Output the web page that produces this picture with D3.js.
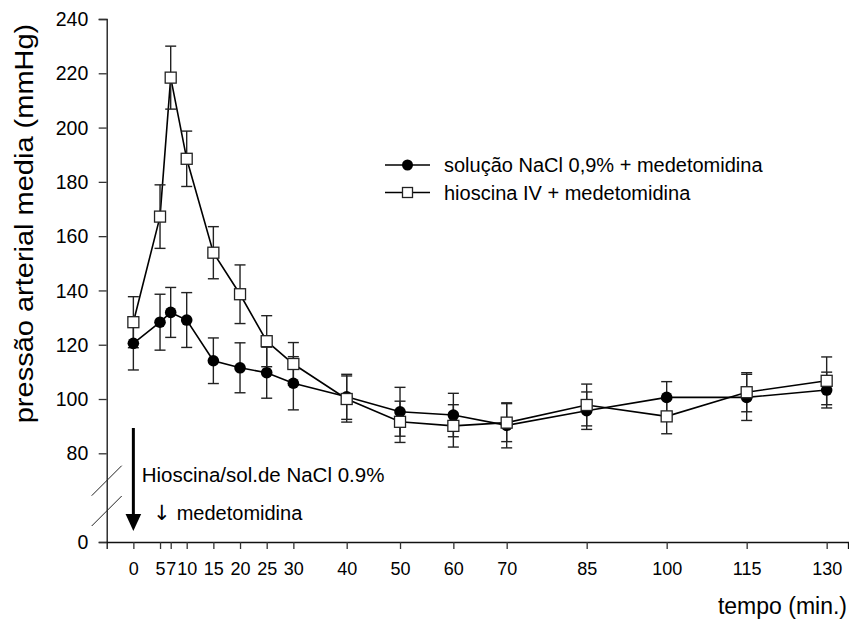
<!DOCTYPE html>
<html>
<head>
<meta charset="utf-8">
<script src="https://cdn.jsdelivr.net/npm/d3@7"></script>
<style>
  html, body { margin: 0; padding: 0; background: #fff; }
  svg { display: block; font-family: "Liberation Sans", Arial, sans-serif; }
</style>
</head>
<body>
<svg id="chart" width="849" height="620"></svg>
<script>
// Sampling times (min)
const times = [0, 5, 7, 10, 15, 20, 25, 30, 40, 50, 60, 70, 85, 100, 115, 130];

// Saline + medetomidine: mean arterial pressure (mmHg) and SEM
const naclMean = [120.5, 128.3, 131.9, 129.1, 114.1, 111.5, 109.7, 105.8, 100.8, 95.3, 94.1, 90.3, 95.7, 100.6, 100.6, 103.3];
const naclSem  = [9.8, 10.3, 9.2, 10.1, 8.4, 9.2, 9.4, 9.8, 8.3, 9.0, 8.0, 8.3, 6.9, 5.8, 8.5, 6.6];

// Hyoscine IV + medetomidine: mean arterial pressure (mmHg) and SEM
const hiosMean = [128.3, 167.2, 218.4, 188.5, 153.9, 138.6, 121.3, 112.9, 100.0, 91.6, 90.1, 91.3, 97.8, 93.6, 102.5, 106.7];
const hiosSem  = [9.4, 11.7, 11.6, 10.2, 9.6, 10.8, 9.4, 7.9, 8.5, 7.6, 7.8, 7.0, 7.7, 6.4, 7.2, 8.8];

// Axis ticks
const yTicks = [0, 80, 100, 120, 140, 160, 180, 200, 220, 240];
const xTicks = times;

const seriesNames = ["solução NaCl 0,9% + medetomidina", "hioscina IV + medetomidina"];
const annotation1 = "Hioscina/sol.de NaCl 0.9%";
const annotation2 = "medetomidina";

const svg = d3.select("#chart");

// x: linear time; y: broken axis (0..80 compressed, 80..240 full)
const x = d3.scaleLinear().domain([-5, 134]).range([106.7, 848]);
const y = d3.scaleLinear().domain([0, 80, 240]).range([542, 453.3, 19]);

const FONT = "'Liberation Sans', Arial, sans-serif";

// ---- axes ----
const xAxis = svg.append("g")
  .attr("transform", `translate(0,${y(0)})`)
  .call(d3.axisBottom(x).tickValues(xTicks).tickSizeOuter(0).tickSize(7));
xAxis.select(".domain").attr("stroke", "#111").attr("stroke-width", 1.3);
xAxis.selectAll(".tick line").attr("stroke", "#333").attr("stroke-width", 1.3);
xAxis.selectAll(".tick text")
  .attr("y", 20.6).attr("dy", "0.71em")
  .attr("fill", "#000").style("font-size", "18px").style("font-family", FONT);

const yAxis = svg.append("g")
  .attr("transform", `translate(${x(-5)},0)`)
  .call(d3.axisLeft(y).tickValues(yTicks).tickSizeOuter(0).tickSize(8));
yAxis.select(".domain").attr("stroke", "#111").attr("stroke-width", 1.3);
yAxis.selectAll(".tick line").attr("stroke", "#333").attr("stroke-width", 1.3);
yAxis.selectAll(".tick text")
  .attr("x", -18.4).attr("dy", "0.34em")
  .attr("fill", "#000").style("font-size", "19.5px").style("font-family", FONT);

// axis-break marks
const ax = x(-5);
[[y(0) - 46.3, y(0) - 76.3], [y(0) - 16, y(0) - 46]].forEach(([y1, y2]) => {
  svg.append("line")
    .attr("x1", ax - 15).attr("y1", y1)
    .attr("x2", ax + 15).attr("y2", y2)
    .attr("stroke", "#222").attr("stroke-width", 1);
});

// axis titles
svg.append("text")
  .attr("transform", "translate(33,223.5) rotate(-90) scale(1.16,1)")
  .attr("text-anchor", "middle")
  .style("font-size", "25px")
  .text("pressão arterial media (mmHg)");

svg.append("text")
  .attr("x", 847).attr("y", 614)
  .attr("text-anchor", "end")
  .style("font-size", "23px")
  .text("tempo (min.)");

// ---- series ----
const series = [
  { mean: naclMean, sem: naclSem, marker: "circle" },
  { mean: hiosMean, sem: hiosSem, marker: "square" }
];

const line = d3.line().x(d => x(d.t)).y(d => y(d.v));

series.forEach(s => {
  const pts = times.map((t, i) => ({ t, v: s.mean[i], e: s.sem[i] }));
  s.pts = pts;
  svg.append("path")
    .datum(pts)
    .attr("d", line)
    .attr("fill", "none")
    .attr("stroke", "#000")
    .attr("stroke-width", 1.6);
});

// error bars
const cap = 5.5;
series.forEach(s => {
  const g = svg.append("g").attr("stroke", "#222").attr("stroke-width", 1.4);
  s.pts.forEach(p => {
    const cx = x(p.t), top = y(p.v + p.e), bot = y(p.v - p.e);
    g.append("line").attr("x1", cx).attr("x2", cx).attr("y1", top).attr("y2", bot);
    g.append("line").attr("x1", cx - cap).attr("x2", cx + cap).attr("y1", top).attr("y2", top);
    g.append("line").attr("x1", cx - cap).attr("x2", cx + cap).attr("y1", bot).attr("y2", bot);
  });
});

// markers (squares drawn last, on top)
series.forEach(s => {
  const g = svg.append("g");
  if (s.marker === "circle") {
    g.selectAll("circle").data(s.pts).join("circle")
      .attr("cx", d => x(d.t)).attr("cy", d => y(d.v)).attr("r", 5.8)
      .attr("fill", "#000");
  } else {
    const sz = 11;
    g.selectAll("rect").data(s.pts).join("rect")
      .attr("x", d => x(d.t) - sz / 2).attr("y", d => y(d.v) - sz / 2)
      .attr("width", sz).attr("height", sz)
      .attr("fill", "#fff").attr("stroke", "#222").attr("stroke-width", 1.3);
  }
});

// ---- legend ----
const legend = svg.append("g").attr("transform", "translate(385,165)");
seriesNames.forEach((name, i) => {
  const row = legend.append("g").attr("transform", `translate(0,${i * 27.5})`);
  row.append("line").attr("x1", 0).attr("x2", 45).attr("y1", 0).attr("y2", 0)
    .attr("stroke", "#000").attr("stroke-width", 1.6);
  if (i === 0) {
    row.append("circle").attr("cx", 22.5).attr("cy", 0).attr("r", 5.5).attr("fill", "#000");
  } else {
    row.append("rect").attr("x", 17.5).attr("y", -5).attr("width", 10).attr("height", 10)
      .attr("fill", "#fff").attr("stroke", "#222").attr("stroke-width", 1.3);
  }
  row.append("text").attr("x", 59).attr("y", 7)
    .style("font-size", "20px").text(name);
});

// ---- injection arrow and annotation ----
const arrowX = x(0);
svg.append("line")
  .attr("x1", arrowX).attr("x2", arrowX)
  .attr("y1", 428).attr("y2", 516)
  .attr("stroke", "#000").attr("stroke-width", 3);
svg.append("path")
  .attr("d", `M${arrowX - 7.8},514 L${arrowX + 7.8},514 L${arrowX},531 Z`)
  .attr("fill", "#000");

svg.append("text").attr("x", 141.7).attr("y", 482)
  .style("font-size", "20.5px").text(annotation1);

// small down arrow before the second annotation line
svg.append("text").attr("x", 153).attr("y", 519.5)
  .attr("fill", "#000")
  .style("font-family", "'DejaVu Sans', sans-serif")
  .style("font-size", "21px").text("↓");
svg.append("text").attr("x", 176.7).attr("y", 519.5)
  .style("font-size", "20px").text(annotation2);
</script>
</body>
</html>
